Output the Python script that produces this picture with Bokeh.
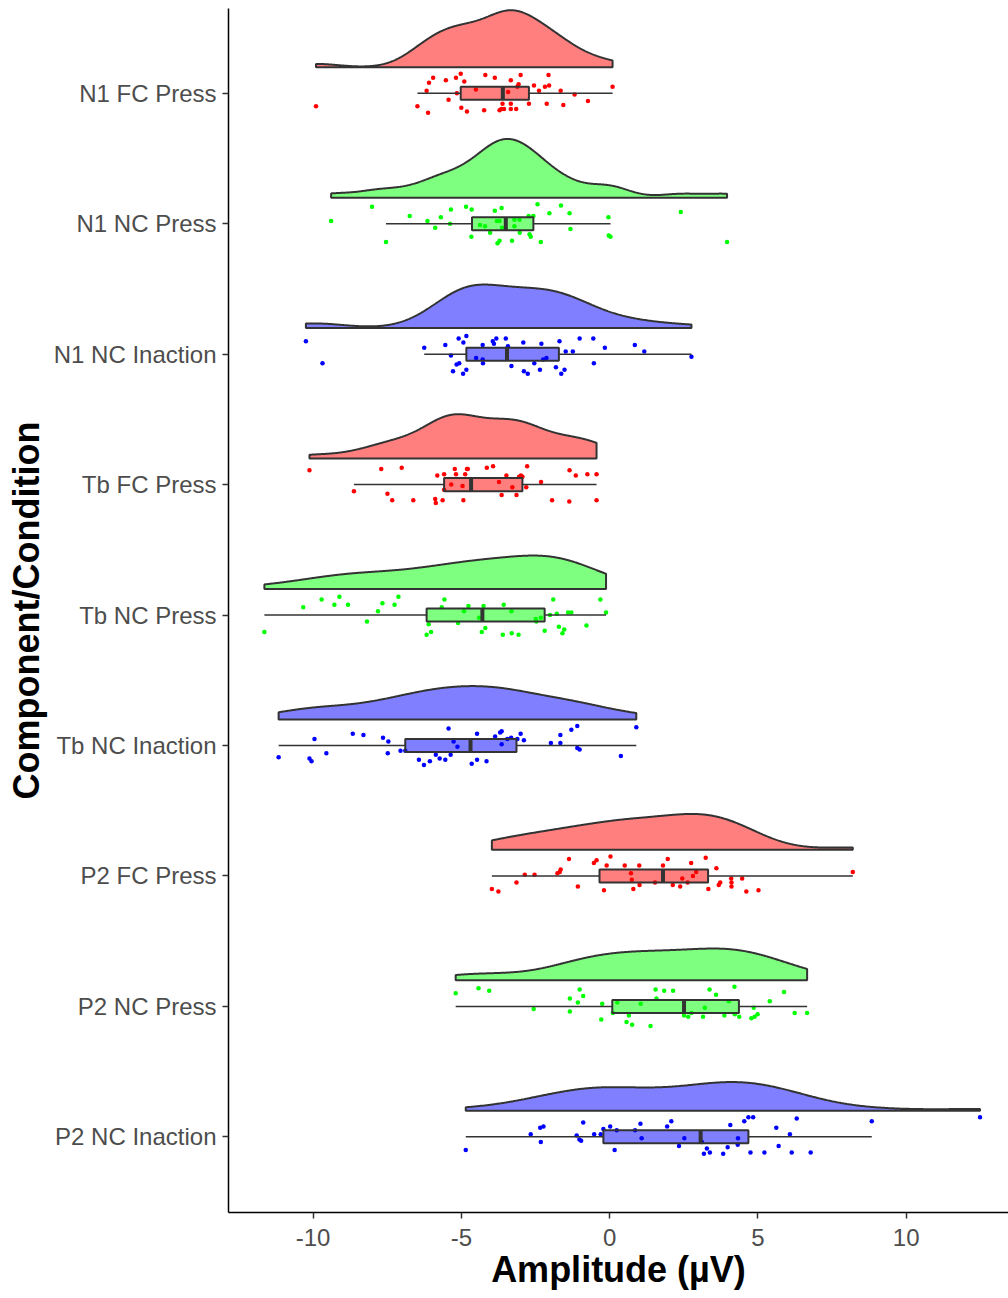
import numpy as np
from bokeh.plotting import figure
from bokeh.models import FixedTicker, Range1d
from bokeh.embed import file_html
from bokeh.resources import INLINE

# ---------------- data ----------------
categories = ["N1 FC Press", "N1 NC Press", "N1 NC Inaction",
              "Tb FC Press", "Tb NC Press", "Tb NC Inaction",
              "P2 FC Press", "P2 NC Press", "P2 NC Inaction"]
conditions = ["FC Press", "NC Press", "NC Inaction"] * 3

n1_fc_press = [-9.9, -6.48, -6.12, -6.17, -6.09, -5.95, -5.52, -5.43, -5.18, -5.02, -4.90, -5.15, -5.00, -4.81,
               -4.51, -4.23, -4.19, -3.87, -3.71, -3.65, -3.61, -3.56, -3.42, -3.33, -3.33, -3.33, -3.15, -3.07,
               -3.00, -3.11, -2.72, -2.55, -2.38, -2.18, -2.06, -2.04, -2.12, -1.65, -1.56, -1.18, -0.73, 0.10]
n1_fc_press_jit = [-0.10, -0.10, -0.15, 0.02, 0.08, 0.12, 0.10, -0.05, 0.12, 0.15, 0.09, 0.0, -0.11, -0.14,
                   0.03, -0.13, 0.14, 0.12, -0.13, -0.12, -0.08, -0.12, 0.01, 0.10, -0.08, -0.12, -0.12, 0.07,
                   0.14, 0.05, -0.08, 0.06, 0.02, 0.05, 0.14, 0.06, -0.08, 0.02, -0.09, -0.01, -0.06, 0.05]

n1_nc_press = [-9.39, -8.01, -7.54, -6.74, -6.14, -5.88, -5.69, -5.38, -5.35, -4.84, -4.65, -4.66, -4.37, -4.20,
               -4.03, -3.87, -3.80, -3.71, -3.78, -3.71, -3.64, -3.63, -3.29, -3.21, -3.21, -3.04, -3.03, -2.73,
               -2.70, -2.66, -2.57, -2.43, -2.32, -2.03, -1.64, -1.35, -1.32, -0.04, -0.03, 0.03, 2.40, 3.96]
n1_nc_press_jit = [0.02, 0.13, -0.14, 0.06, 0.02, -0.03, 0.05, 0.0, 0.11, 0.13, 0.11, -0.10, -0.01, -0.02,
                   -0.07, 0.10, 0.02, 0.02, -0.15, -0.13, 0.12, -0.03, -0.13, 0.03, -0.02, 0.03, -0.07, 0.06,
                   -0.08, -0.10, 0.06, 0.15, -0.14, 0.08, 0.14, 0.08, -0.04, 0.05, -0.09, -0.10, 0.09, -0.14]

n1_nc_inaction = [-10.24, -9.68, -6.25, -5.54, -5.35, -5.28, -5.16, -5.07, -5.09, -4.93, -4.83, -4.94, -4.83,
                  -4.50, -4.28, -4.28, -4.27, -3.94, -3.90, -3.82, -3.50, -3.43, -3.31, -2.91, -2.89, -2.76,
                  -2.54, -2.35, -2.30, -2.24, -2.13, -1.81, -1.69, -1.63, -1.52, -1.48, -1.24, -1.01, -0.55,
                  -0.53, -0.16, 0.85, 1.17, 2.76]
n1_nc_inaction_jit = [0.10, -0.07, 0.05, 0.07, -0.01, -0.13, -0.08, -0.07, 0.12, 0.09, 0.14, -0.15, -0.12,
                      -0.03, 0.07, -0.04, -0.07, 0.10, 0.08, 0.12, 0.12, 0.06, -0.09, 0.09, -0.13, -0.15,
                      -0.07, -0.12, 0.08, -0.04, -0.03, -0.10, 0.10, -0.15, -0.12, 0.02, 0.02, 0.12, 0.12,
                      -0.07, 0.05, 0.07, 0.02, -0.02]

tb_fc_press = [-10.12, -8.62, -7.70, -7.49, -7.33, -7.01, -6.62, -5.88, -5.86, -5.81, -5.63, -5.58, -5.58,
               -5.34, -5.22, -5.18, -4.96, -4.93, -4.87, -4.81, -4.78, -4.14, -3.93, -3.73, -3.64, -3.48,
               -3.28, -3.14, -3.05, -2.99, -2.94, -2.78, -2.81, -2.31, -1.94, -1.35, -1.36, -1.14, -0.75,
               -0.44, -0.44]
tb_fc_press_jit = [0.11, -0.05, 0.12, -0.07, -0.12, 0.13, -0.12, -0.11, -0.14, 0.07, -0.12, 0.08, -0.04,
                   0.0, 0.12, 0.08, -0.01, -0.12, 0.08, 0.12, 0.12, 0.13, 0.14, 0.02, -0.08, 0.07,
                   -0.02, -0.08, 0.06, 0.07, 0.06, 0.14, -0.02, 0.02, -0.12, 0.11, -0.13, 0.07, 0.08,
                   0.08, -0.12]

tb_nc_press = [-11.64, -10.33, -9.71, -9.28, -9.11, -8.82, -8.18, -7.81, -7.66, -7.25, -7.12, -6.17, -6.10,
               -6.02, -5.66, -5.57, -5.11, -4.91, -4.76, -4.40, -4.31, -4.25, -4.19, -3.60, -3.57, -3.31,
               -3.30, -3.07, -2.49, -2.47, -2.32, -2.19, -2.01, -1.90, -1.78, -1.71, -1.59, -1.53, -1.40,
               -1.29, -0.78, -0.31, -0.12]
tb_nc_press_jit = [-0.13, 0.06, 0.12, 0.08, 0.14, 0.08, -0.05, 0.03, 0.09, 0.08, 0.14, -0.15, -0.07,
                   -0.13, 0.06, 0.12, -0.06, 0.03, 0.07, -0.02, -0.13, 0.07, -0.10, -0.15, 0.08, 0.03,
                   -0.14, -0.15, -0.03, -0.05, -0.02, -0.12, 0.0, 0.12, 0.01, -0.09, -0.14, -0.11, 0.02,
                   0.02, -0.08, 0.12, 0.02]

tb_nc_inaction = [-11.16, -10.12, -10.05, -9.95, -9.55, -8.66, -8.30, -7.64, -7.48, -7.46, -7.05, -6.89,
                  -6.43, -6.26, -6.06, -5.86, -5.73, -5.54, -5.43, -5.36, -5.26, -5.13, -4.65, -4.47, -4.47,
                  -4.15, -3.86, -3.69, -3.64, -3.64, -3.45, -3.32, -3.11, -3.00, -2.89, -1.98, -1.66, -1.66,
                  -1.29, -1.09, -1.09, -1.01, 0.38, 0.90]
tb_nc_inaction_jit = [-0.09, -0.10, -0.12, 0.05, -0.06, 0.09, 0.08, 0.06, -0.06, 0.03, -0.04, -0.04,
                      -0.11, -0.15, -0.12, -0.07, -0.10, -0.11, 0.13, -0.07, 0.03, -0.01, -0.14, 0.09, -0.11,
                      -0.12, 0.07, 0.10, 0.01, 0.11, 0.05, 0.06, 0.05, 0.09, 0.04, 0.02, 0.08, 0.02,
                      0.12, 0.15, -0.02, -0.03, -0.08, 0.14]

p2_fc_press = [-3.97, -3.75, -3.14, -2.86, -2.53, -1.76, -1.68, -1.65, -1.37, -1.07, -0.53, -0.44, -0.19,
               -0.10, 0.03, 0.51, 0.72, 0.75, 0.80, 1.00, 1.01, 1.53, 1.80, 1.96, 2.13, 2.38, 2.45, 2.63,
               2.75, 2.81, 2.92, 3.24, 3.33, 3.60, 3.68, 3.73, 4.10, 4.11, 4.11, 4.47, 4.61, 5.02, 8.20]
p2_fc_press_jit = [-0.10, -0.12, -0.05, 0.01, 0.01, 0.02, 0.03, 0.05, 0.13, -0.08, 0.10, 0.12, -0.11,
                   0.08, 0.15, 0.08, 0.02, -0.03, -0.10, 0.08, -0.07, -0.05, 0.08, 0.13, -0.07, -0.08, -0.02, -0.05,
                   0.10, 0.0, 0.03, 0.14, -0.10, 0.06, -0.07, -0.05, -0.02, -0.05, -0.08, -0.02, -0.12, -0.11, 0.03]

p2_nc_press = [-5.19, -4.42, -4.06, -2.56, -1.34, -1.34, -1.07, -1.01, -0.89, -0.28, -0.25, 0.11, 0.26,
               0.57, 0.65, 0.76, 1.05, 1.38, 1.55, 1.58, 1.84, 2.14, 2.51, 2.65, 2.76, 3.15, 3.21, 3.37,
               3.59, 3.87, 4.02, 4.21, 4.22, 4.37, 4.78, 4.86, 4.89, 4.99, 5.40, 5.88, 6.24, 6.66]
p2_nc_press_jit = [0.10, 0.14, 0.12, -0.02, 0.06, -0.04, 0.03, 0.13, 0.08, -0.10, 0.02, -0.05, 0.03,
                   -0.12, -0.07, -0.14, 0.02, -0.15, 0.13, 0.06, 0.12, 0.12, -0.07, -0.08, -0.05, -0.08, -0.01, 0.13,
                   0.09, -0.07, 0.04, 0.15, -0.06, -0.08, -0.09, -0.01, -0.08, -0.06, 0.04, 0.11, -0.05, -0.05]

p2_nc_inaction = [-4.85, -2.66, -2.34, -2.32, -2.23, -1.11, -1.02, -0.96, -0.89, -0.52, -0.30, -0.21, 0.02,
                  0.17, 0.24, 0.86, 1.04, 1.08, 1.94, 2.08, 2.34, 2.52, 3.11, 3.18, 3.28, 3.38, 3.83, 3.98,
                  4.07, 4.32, 4.33, 4.54, 4.68, 4.84, 4.75, 5.22, 5.62, 5.70, 6.08, 6.14, 6.31, 6.78, 8.84, 12.49]
p2_nc_inaction_jit = [-0.10, 0.02, 0.07, -0.04, 0.08, 0.01, -0.02, -0.03, 0.11, 0.02, 0.02, 0.06, 0.08,
                      -0.10, 0.05, 0.05, 0.10, -0.01, 0.08, 0.12, -0.07, -0.01, -0.04, -0.13, -0.09, -0.12, -0.13, -0.08,
                      0.09, -0.06, -0.01, 0.12, 0.15, 0.15, -0.12, -0.12, 0.07, -0.07, 0.02, -0.12, 0.14, -0.12, 0.12, 0.15]

values = [n1_fc_press, n1_nc_press, n1_nc_inaction, tb_fc_press, tb_nc_press, tb_nc_inaction,
          p2_fc_press, p2_nc_press, p2_nc_inaction]
jitters = [n1_fc_press_jit, n1_nc_press_jit, n1_nc_inaction_jit, tb_fc_press_jit, tb_nc_press_jit,
           tb_nc_inaction_jit, p2_fc_press_jit, p2_nc_press_jit, p2_nc_inaction_jit]

# boxplot summaries as drawn in the reference (one entry per category)
box_q1 = [-5.02, -4.64, -4.83, -5.58, -6.17, -6.89, -0.34, 0.09, -0.21]
box_median = [-3.60, -3.50, -3.46, -4.67, -4.29, -4.69, 1.80, 2.51, 3.07]
box_q3 = [-2.72, -2.57, -1.71, -2.94, -2.19, -3.14, 3.32, 4.36, 4.68]
whisker_low = [-6.48, -7.54, -6.25, -8.62, -11.64, -11.16, -3.97, -5.19, -4.85]
whisker_high = [0.10, 0.03, 2.76, -0.44, -0.12, 0.90, 8.20, 6.66, 8.84]

x_ticks = [-10, -5, 0, 5, 10]
x_tick_labels = ["-10", "-5", "0", "5", "10"]
x_title = "Amplitude (\u00b5V)"
y_title = "Component/Condition"

# ---------------- styling ----------------
cond_color = {"FC Press": "#FF0000", "NC Press": "#00FF00", "NC Inaction": "#0000FF"}
OUTLINE = "#333333"
FONT = "Liberation Sans"
VIOLIN_NUDGE = 0.2
VIOLIN_HALF = 0.45
BOX_HALF = 0.05


def bw_nrd0(x):
    x = np.asarray(x, float)
    sd = np.std(x, ddof=1)
    iqr = np.percentile(x, 75) - np.percentile(x, 25)
    lo = min(sd, iqr / 1.34)
    return 0.9 * lo * len(x) ** (-0.2)


def kde(x, grid):
    x = np.asarray(x, float)
    bw = bw_nrd0(x)
    z = (grid[:, None] - x[None, :]) / bw
    return np.exp(-0.5 * z ** 2).sum(axis=1) / (len(x) * bw * np.sqrt(2 * np.pi))


n_cat = len(categories)
positions = [n_cat - i for i in range(n_cat)]  # top category highest

grids, dens = [], []
for v in values:
    g = np.linspace(min(v), max(v), 512)
    grids.append(g)
    dens.append(kde(v, g))
global_max = max(d.max() for d in dens)

p = figure(width=1008, height=1298, output_backend="svg", toolbar_location=None,
           x_range=Range1d(-12.85, 13.45), y_range=Range1d(0.42, 9.65),
           min_border_left=228, min_border_right=0, min_border_top=8, min_border_bottom=86)
p.outline_line_color = None
p.xgrid.visible = False
p.ygrid.visible = False
p.background_fill_color = "white"
p.border_fill_color = "white"

for i, (v, jit) in enumerate(zip(values, jitters)):
    y0 = positions[i]
    col = cond_color[conditions[i]]
    g, d = grids[i], dens[i]
    base = y0 + VIOLIN_NUDGE
    h = d / global_max * VIOLIN_HALF
    px = np.concatenate([g, g[::-1]])
    py = np.concatenate([base + h, np.full(len(g), base)])
    p.patch(px, py, fill_color=col, fill_alpha=0.5, line_color=OUTLINE, line_width=2)

    # jittered points
    p.scatter(np.array(v), y0 + np.array(jit), size=4.5, fill_color=col, line_color=None)

    # boxplot
    q1, med, q3 = box_q1[i], box_median[i], box_q3[i]
    lo, hi = whisker_low[i], whisker_high[i]
    p.segment(x0=[lo, q3], y0=[y0, y0], x1=[q1, hi], y1=[y0, y0], line_color=OUTLINE, line_width=1.5)
    p.quad(left=[q1], right=[q3], bottom=[y0 - BOX_HALF], top=[y0 + BOX_HALF],
           fill_color=col, fill_alpha=0.5, line_color=OUTLINE, line_width=2)
    p.segment(x0=[med], y0=[y0 - BOX_HALF], x1=[med], y1=[y0 + BOX_HALF], line_color=OUTLINE, line_width=4)

# axes
p.xaxis.ticker = FixedTicker(ticks=x_ticks)
p.xaxis.major_label_overrides = {t: lab for t, lab in zip(x_ticks, x_tick_labels)}
p.yaxis.ticker = FixedTicker(ticks=positions)
p.yaxis.major_label_overrides = {pos: lab for pos, lab in zip(positions, categories)}
for ax in (p.xaxis[0], p.yaxis[0]):
    ax.axis_line_color = "black"
    ax.axis_line_width = 1.5
    ax.major_tick_line_color = OUTLINE
    ax.major_tick_line_width = 1.5
    ax.major_tick_out = 6
    ax.major_tick_in = 0
    ax.minor_tick_line_color = None
    ax.major_label_text_font = FONT
    ax.major_label_text_font_size = "24px"
    ax.major_label_text_color = "#4D4D4D"
    ax.axis_label_text_font = FONT
    ax.axis_label_text_font_size = "36px"
    ax.axis_label_text_font_style = "bold"
    ax.axis_label_text_color = "black"
p.xaxis.axis_label = x_title
p.yaxis.axis_label = y_title
p.xaxis.major_label_standoff = 10
p.xaxis.axis_label_standoff = 0
p.yaxis.major_label_standoff = 6
p.yaxis.axis_label_standoff = 4

open("out.html", "w").write(file_html(p, INLINE))
